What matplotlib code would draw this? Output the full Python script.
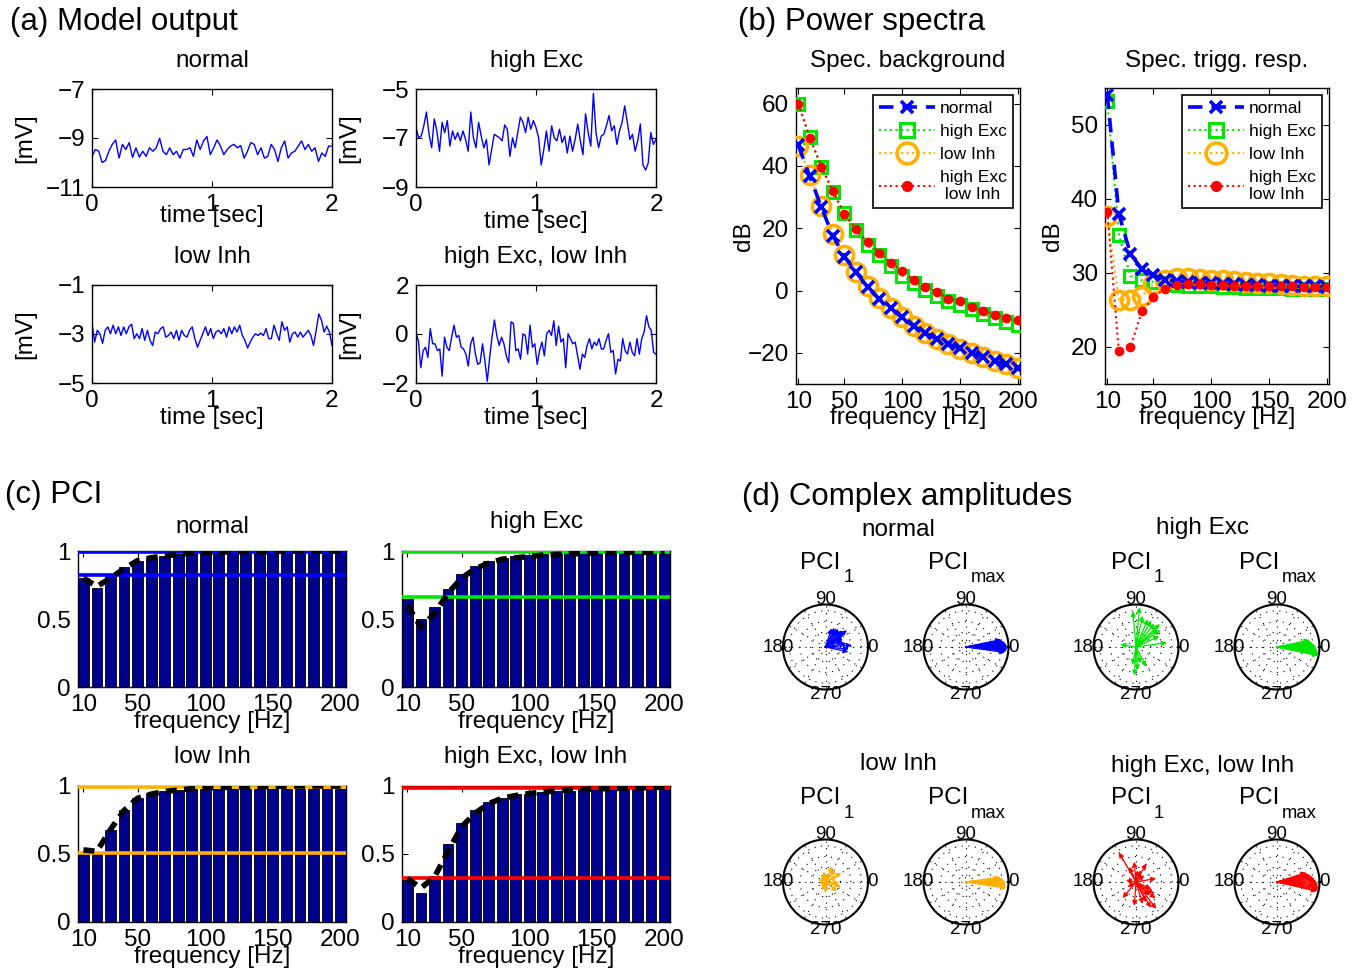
import numpy as np
import matplotlib
matplotlib.use('Agg')
import matplotlib.pyplot as plt

plt.rcParams['font.family'] = ['Liberation Sans', 'DejaVu Sans']
plt.rcParams['axes.unicode_minus'] = True

# ---------------- data ----------------
# (a) model output traces [mV], 0..2 s
trace_normal = [-9.75, -9.47, -9.54, -10.0, -9.92, -9.54, -9.26, -9.08, -9.82, -9.26, -9.47, -9.19,
                -9.79, -9.40, -9.78, -9.54, -9.75, -9.40, -9.54, -9.40, -9.01, -9.54, -9.68, -9.40,
                -9.68, -9.54, -9.82, -9.47, -9.47, -9.40, -9.75, -9.08, -9.47, -9.12, -8.94, -9.68,
                -9.40, -9.08, -9.33, -9.68, -9.47, -9.33, -9.26, -9.40, -9.31, -9.82, -9.54, -9.19,
                -9.26, -9.68, -9.40, -9.82, -9.75, -9.26, -9.47, -9.96, -9.40, -9.12, -9.82, -9.61,
                -9.54, -9.33, -9.12, -9.47, -9.26, -9.54, -9.40, -9.96, -9.61, -9.75, -9.33, -9.33]
trace_highexc = [-6.57, -6.99, -6.92, -6.50, -5.94, -6.85, -7.40, -6.22, -6.71, -7.54, -6.36, -6.78,
                 -6.29, -7.33, -6.71, -7.06, -6.78, -7.12, -6.71, -7.06, -7.54, -5.94, -6.99, -7.40,
                 -6.36, -6.92, -7.40, -7.06, -8.10, -7.47, -6.85, -6.92, -6.99, -7.12, -6.47, -6.64,
                 -7.75, -6.99, -7.40, -6.78, -6.15, -6.36, -6.78, -6.15, -6.64, -6.29, -6.57, -6.99,
                 -8.10, -7.47, -6.71, -7.54, -6.50, -6.99, -7.12, -6.64, -7.19, -6.92, -7.61, -6.92,
                 -7.54, -7.06, -6.43, -7.12, -7.68, -6.01, -6.78, -7.33, -5.18, -6.78, -7.40, -6.92,
                 -6.85, -6.50, -6.08, -6.71, -6.50, -7.26, -6.71, -6.36, -5.69, -6.36, -7.06, -6.85,
                 -7.54, -7.12, -6.43, -8.10, -8.31, -8.03, -6.78, -7.26, -7.06]
trace_lowinh = [-2.57, -3.33, -2.85, -2.99, -3.38, -2.85, -2.71, -2.99, -2.64, -2.99, -2.71, -3.06,
                -2.71, -2.99, -2.71, -2.60, -3.19, -2.99, -3.19, -2.78, -3.26, -2.85, -3.26, -3.47,
                -2.92, -2.99, -2.78, -2.71, -3.13, -3.06, -2.92, -3.19, -2.85, -3.26, -2.85, -3.06,
                -3.13, -2.85, -2.71, -3.19, -3.54, -3.26, -2.99, -2.71, -3.06, -2.78, -3.19, -2.92,
                -2.85, -2.99, -2.78, -3.13, -2.71, -2.99, -2.71, -2.92, -2.64, -3.06, -3.26, -3.57,
                -3.33, -3.13, -2.99, -3.06, -2.96, -3.06, -2.78, -3.19, -3.19, -2.64, -2.99, -3.26,
                -2.50, -2.85, -2.71, -3.33, -2.99, -2.92, -3.13, -2.92, -3.13, -2.99, -2.85, -3.06,
                -3.47, -2.85, -2.18, -2.43, -2.92, -2.68, -2.92, -3.47]
trace_both = [0.01, -0.26, -1.38, -0.68, -0.54, -0.96, 0.22, -0.40, -0.40, -0.68, -0.61, -1.72,
              -0.13, -0.54, -0.68, -0.13, 0.36, -0.13, -0.06, -0.54, -0.61, -0.82, -1.31, -0.40,
              -0.13, -0.82, -1.24, -1.17, -0.40, -1.10, -1.93, -0.96, -0.13, 0.57, -0.06, -0.47,
              -0.13, -0.40, -0.89, -1.17, 0.50, 0.43, -0.68, -0.61, -1.03, 0.01, -0.06, -0.82,
              0.36, -0.54, -0.40, -1.24, -0.68, -0.33, -0.89, 0.01, 0.15, -0.06, 0.54, -0.47,
              0.32, -0.33, -0.19, -1.38, 0.01, -0.19, -0.40, -0.33, -0.89, -1.44, -0.82, -0.96,
              -0.47, -0.19, -0.61, -0.33, -0.47, -0.19, -0.61, -0.61, -0.26, 0.01, -0.75, -0.68,
              -1.63, -1.03, -1.10, -0.19, -0.68, -0.82, -0.33, -0.75, -0.89, -0.19, -0.82, -0.19,
              0.08, 0.75, 0.29, 0.15, -0.75, -0.82]

conditions = ['normal', 'high Exc', 'low Inh', 'high Exc, low Inh']
traces = [trace_normal, trace_highexc, trace_lowinh, trace_both]
trace_ylims = [(-11, -7), (-9, -5), (-5, -1), (-2, 2)]

# (b) power spectra [dB]
freqs = [10, 20, 30, 40, 50, 60, 70, 80, 90, 100, 110, 120, 130, 140, 150, 160, 170, 180, 190, 200]
bg_normal = [46.6, 36.6, 26.7, 17.5, 10.9, 5.9, 1.1, -2.7, -5.6, -8.6, -11.5, -13.7, -15.5, -17.2,
             -18.5, -20.1, -21.2, -22.6, -23.7, -24.9]
bg_highexc = [60.0, 49.2, 39.5, 31.5, 24.8, 19.4, 14.5, 11.3, 7.8, 4.8, 2.3, 0.2, -1.6, -3.4,
              -4.5, -6.0, -7.6, -8.7, -10.0, -11.1]
bg_lowinh = [46.5, 37.0, 27.0, 18.0, 11.3, 6.0, 1.4, -2.5, -5.6, -8.4, -11.3, -13.6, -15.5, -17.2,
             -18.8, -20.2, -21.4, -22.6, -23.7, -24.9]
bg_both = [60.0, 49.0, 39.8, 31.8, 24.6, 19.6, 15.5, 12.2, 8.9, 6.2, 3.3, 1.1, -0.4, -2.7,
           -3.4, -5.3, -6.5, -7.7, -8.8, -9.6]
trig_normal = [54.1, 38.0, 32.6, 30.5, 29.7, 29.0, 28.9, 28.8, 28.7, 28.6, 28.5, 28.5, 28.4, 28.4,
               28.3, 28.3, 28.2, 28.2, 28.2, 28.1]
trig_highexc = [53.2, 35.2, 29.6, 29.0, 28.8, 28.6, 28.4, 28.3, 28.2, 28.2, 28.1, 28.1, 28.0, 28.0,
                28.0, 28.0, 27.9, 27.9, 27.9, 27.9]
trig_lowinh = [37.7, 26.4, 26.4, 26.9, 28.5, 29.0, 29.3, 29.3, 29.2, 29.1, 29.0, 28.9, 28.8, 28.7,
               28.6, 28.5, 28.4, 28.3, 28.3, 28.2]
trig_both = [38.3, 19.4, 20.0, 24.8, 26.7, 27.9, 28.4, 28.5, 28.5, 28.4, 28.4, 28.3, 28.3, 28.2,
             28.2, 28.2, 28.2, 28.1, 28.1, 28.1]

# (c) PCI
pci_normal = [0.80, 0.73, 0.82, 0.88, 0.93, 0.95, 0.96, 0.975, 0.99, 0.99, 0.99, 0.99, 0.99, 0.99,
              0.99, 0.99, 0.99, 0.99, 0.99, 0.99]
pci_highexc = [0.65, 0.50, 0.59, 0.72, 0.83, 0.89, 0.93, 0.95, 0.96, 0.97, 0.975, 0.985, 0.985,
               0.985, 0.985, 0.985, 0.985, 0.985, 0.985, 0.985]
pci_lowinh = [0.51, 0.51, 0.68, 0.82, 0.915, 0.945, 0.96, 0.97, 0.975, 0.98, 0.98, 0.98, 0.98, 0.98,
              0.98, 0.98, 0.98, 0.98, 0.98, 0.98]
pci_both = [0.31, 0.21, 0.34, 0.57, 0.73, 0.82, 0.88, 0.91, 0.94, 0.94, 0.955, 0.96, 0.965, 0.975,
            0.975, 0.975, 0.975, 0.975, 0.975, 0.975]
fit_normal = [0.80, 0.74, 0.80, 0.87, 0.93, 0.95, 0.965, 0.975, 0.985, 0.99, 0.99, 0.995, 0.995,
              0.995, 0.995, 1.0, 1.0, 1.0, 1.0, 1.0]
fit_highexc = [0.60, 0.44, 0.54, 0.69, 0.80, 0.87, 0.91, 0.94, 0.95, 0.96, 0.97, 0.975, 0.98, 0.98,
               0.985, 0.985, 0.99, 0.99, 0.99, 0.99]
fit_lowinh = [0.53, 0.52, 0.68, 0.82, 0.91, 0.94, 0.96, 0.97, 0.98, 0.985, 0.99, 0.99, 0.995,
              0.995, 0.995, 1.0, 1.0, 1.0, 1.0, 1.0]
fit_both = [0.32, 0.25, 0.33, 0.52, 0.70, 0.80, 0.87, 0.91, 0.93, 0.945, 0.955, 0.965, 0.97, 0.975,
            0.98, 0.98, 0.985, 0.985, 0.99, 0.99]
pci_levels = [(0.99, 0.82), (0.99, 0.66), (0.99, 0.51), (0.985, 0.32)]

# (d) complex amplitudes: (angle [deg], magnitude)
amp1_normal_ang = [72, 65, 60, 55, 50, 45, 40, 38, 35, 30, 25, 20, 10, 4, -5, -12]
amp1_normal_mag = [0.46, 0.50, 0.48, 0.52, 0.50, 0.55, 0.60, 0.64, 0.50, 0.45, 0.45, 0.42, 0.50, 0.62, 0.55, 0.55]
ampM_normal_ang = [-8, -6, -5, -4, -3, -2, -1, 0, 1, 2, 3, 4, 5, 6, 7, 8, 9, 10, 11, 12]
ampM_normal_mag = [0.92, 0.95, 0.96, 0.97, 0.96, 0.98, 0.97, 0.96, 0.98, 0.97, 0.95, 0.96, 0.94, 0.93, 0.92, 0.9, 0.88, 0.86, 0.85, 0.84]
amp1_highexc_ang = [85, 95, 78, 67, 60, 52, 44, 40, 35, 25, 8, 171, -93, -86, -63, -101, -75]
amp1_highexc_mag = [0.94, 0.85, 0.75, 0.71, 0.72, 0.70, 0.78, 0.66, 0.70, 0.60, 0.73, 0.37, 0.67, 0.55, 0.52, 0.43, 0.40]
ampM_highexc_ang = [-12, -10, -8, -6, -4, -2, 0, 2, 4, 6, 8, 10, 12, -11, -9, -7, -5, -3, -1, 1, 3, 5]
ampM_highexc_mag = [0.98, 1.0, 0.99, 0.97, 0.95, 0.94, 0.92, 0.9, 0.88, 0.85, 0.83, 0.8, 0.78, 0.99, 0.98, 0.96, 0.95, 0.93, 0.92, 0.9, 0.87, 0.84]
amp1_lowinh_ang = [67, 30, -16, -39, -90, -113, 160, 120, 26, 51, 70, -40, -4, 100, 200]
amp1_lowinh_mag = [0.40, 0.43, 0.37, 0.35, 0.26, 0.20, 0.17, 0.20, 0.30, 0.37, 0.23, 0.16, 0.32, 0.25, 0.15]
ampM_lowinh_ang = [-9, -7, -5, -3, -1, 0, 1, 2, 3, 4, 5, 6, 7, 8]
ampM_lowinh_mag = [0.95, 0.96, 0.95, 0.94, 0.93, 0.92, 0.91, 0.9, 0.9, 0.88, 0.86, 0.84, 0.82, 0.8]
amp1_both_ang = [120, -53, -130, -94, -73, 10, 61, 95, 114, -45, -33, -24, 67, -149, 170, -63, 82, 39, -60, -40]
amp1_both_mag = [0.80, 0.79, 0.49, 0.56, 0.54, 0.48, 0.50, 0.48, 0.39, 0.45, 0.50, 0.39, 0.30, 0.23, 0.24, 0.53, 0.28, 0.25, 0.7, 0.6]
ampM_both_ang = [18, 16, 14, 12, 10, 8, 6, 4, 2, 0, -2, -4, -6, -8, -10, -12, -13]
ampM_both_mag = [0.72, 0.74, 0.76, 0.8, 0.82, 0.85, 0.88, 0.9, 0.92, 0.94, 0.96, 0.97, 0.98, 0.99, 1.0, 0.98, 0.96]

ORANGE = '#FFB000'
cond_colors = ['#0000FF', '#00E600', ORANGE, '#FF0000']

# ---------------- layout ----------------
W, H = 1361, 973
fig = plt.figure(figsize=(W / 100, H / 100), dpi=100)

FS = 17.5
FS_HEAD = 22.5


def rect(x, y, w, h):
    return [x / W, 1 - (y + h) / H, w / W, h / H]


def ftext(x, y, s, **kw):
    kw.setdefault('ha', 'center')
    kw.setdefault('va', 'center')
    fig.text(x / W, 1 - y / H, s, **kw)


def style(ax):
    ax.tick_params(direction='in', top=True, right=True, length=4, width=0.8,
                   labelsize=FS, pad=5)
    for s in ax.spines.values():
        s.set_linewidth(1.0)


# panel headings
ftext(10, 22, '(a) Model output', fontsize=FS_HEAD, ha='left')
ftext(738, 22, '(b) Power spectra', fontsize=FS_HEAD, ha='left')
ftext(5, 495, '(c) PCI', fontsize=FS_HEAD, ha='left')
ftext(742, 497, '(d) Complex amplitudes', fontsize=FS_HEAD, ha='left')

# (a)
a_rects = [(92, 89), (416, 89), (92, 285), (416, 285)]
a_xlab_off = [29, 35, 35, 35]
for (x0, y0), name, tr, yl, xo in zip(a_rects, conditions, traces, trace_ylims, a_xlab_off):
    ax = fig.add_axes(rect(x0, y0, 240, 98))
    t = np.linspace(0, 2, len(tr))
    ax.plot(t, tr, color='#0000FF', lw=1.0)
    ax.set_xlim(0, 2)
    ax.set_ylim(*yl)
    ax.set_xticks([0, 1, 2])
    yt = [yl[0], (yl[0] + yl[1]) / 2, yl[1]]
    ax.set_yticks(yt)
    ax.set_yticklabels([str(int(v)) if v >= 0 else '\u2212' + str(int(-v)) for v in yt])
    style(ax)
    ax.set_xlabel('time [sec]', fontsize=FS)
    ax.xaxis.set_label_coords(0.5, -xo / 98)
    ax.xaxis.label.set_va('center')
    ax.set_ylabel('[mV]', fontsize=FS)
    ax.yaxis.set_label_coords(-67 / 240, 0.5)
    ax.yaxis.label.set_va('center')
    ftext(x0 + 120, y0 - 28, name, fontsize=FS)

# (b)
b_specs = [
    (796, 'Spec. background', (-30, 65), [-20, 0, 20, 40, 60],
     [bg_normal, bg_highexc, bg_lowinh, bg_both], 'high Exc\n low Inh'),
    (1105, 'Spec. trigg. resp.', (15, 55), [20, 30, 40, 50],
     [trig_normal, trig_highexc, trig_lowinh, trig_both], 'high Exc\nlow Inh'),
]
for x0, title, yl, yt, series, last_lab in b_specs:
    ax = fig.add_axes(rect(x0, 88, 224, 296))
    s_n, s_he, s_li, s_b = series
    ax.plot(freqs, s_n, color='#0000FF', ls=(0, (4, 2.5)), lw=2.6, marker='x',
            ms=8, mew=2.6, label='normal', zorder=4)
    ax.plot(freqs, s_he, color='#00E600', ls=':', lw=1.5, marker='s', ms=9,
            mfc='none', mew=2.2, label='high Exc', zorder=3)
    ax.plot(freqs, s_li, color=ORANGE, ls=':', lw=1.5, marker='o', ms=13,
            mfc='none', mew=2.6, label='low Inh', zorder=3)
    ax.plot(freqs, s_b, color='#FF0000', ls=':', lw=1.5, marker='o', ms=7,
            mew=0, label=last_lab, zorder=5)
    ax.set_xlim(8, 202)
    ax.set_ylim(*yl)
    ax.set_xticks([10, 50, 100, 150, 200])
    ax.set_yticks(yt)
    ax.set_yticklabels([str(v) if v >= 0 else '\u2212' + str(-v) for v in yt])
    style(ax)
    ax.set_xlabel('frequency [Hz]', fontsize=FS)
    ax.xaxis.set_label_coords(0.5, -34 / 296)
    ax.xaxis.label.set_va('center')
    ax.set_ylabel('dB', fontsize=FS)
    ax.yaxis.set_label_coords(-52 / 224, 0.5)
    ax.yaxis.label.set_va('center')
    leg = ax.legend(loc='upper right', fontsize=12.5, frameon=True, fancybox=False,
                    framealpha=1, edgecolor='black', handlelength=3.2, borderpad=0.35,
                    labelspacing=0.45, handletextpad=0.3, borderaxespad=0.4,
                    markerscale=1.15)
    leg.get_frame().set_linewidth(1.2)
    ftext(x0 + 112, 61, title, fontsize=FS)

# (c)
c_rects = [(78, 551), (402, 551), (78, 786), (402, 786)]
c_title_y = [527, 522, 757, 757]
pcis = [pci_normal, pci_highexc, pci_lowinh, pci_both]
fits = [fit_normal, fit_highexc, fit_lowinh, fit_both]
for (x0, y0), name, pv, fv, lev, col, ty in zip(c_rects, conditions, pcis, fits, pci_levels,
                                                  cond_colors, c_title_y):
    ax = fig.add_axes(rect(x0, y0, 268, 136))
    ax.bar(freqs, pv, width=8, color='#00008F', edgecolor='black', linewidth=0.6, zorder=2)
    for lv in lev:
        ax.axhline(lv, color=col, lw=2.6, zorder=3)
    ax.plot(freqs, fv, color='black', lw=4.0, ls=(0, (2, 1.3)), zorder=4)
    ax.set_xlim(6, 204)
    ax.set_ylim(0, 1)
    ax.set_xticks([10, 50, 100, 150, 200])
    ax.set_yticks([0, 0.5, 1])
    ax.set_yticklabels(['0', '0.5', '1'])
    style(ax)
    ax.set_xlabel('frequency [Hz]', fontsize=FS)
    ax.xaxis.set_label_coords(0.5, -35 / 136)
    ax.xaxis.label.set_va('center')
    ftext(x0 + 134, ty, name, fontsize=FS)

# (d)
R = 42.5
d_centers_x = [825.5, 966, 1136, 1277]
d_centers_y = [647, 882]
d_data = [
    [(amp1_normal_ang, amp1_normal_mag), (ampM_normal_ang, ampM_normal_mag)],
    [(amp1_highexc_ang, amp1_highexc_mag), (ampM_highexc_ang, ampM_highexc_mag)],
    [(amp1_lowinh_ang, amp1_lowinh_mag), (ampM_lowinh_ang, ampM_lowinh_mag)],
    [(amp1_both_ang, amp1_both_mag), (ampM_both_ang, ampM_both_mag)],
]
d_title_pos = [(898, 530), (1203, 528), (898, 764), (1203, 766)]
for k in range(4):
    row, colk = k // 2, k % 2
    cy = d_centers_y[row]
    ftext(*d_title_pos[k], conditions[k], fontsize=FS)
    for j in range(2):
        cx = d_centers_x[2 * colk + j]
        angs, mags = d_data[k][j]
        ax = fig.add_axes(rect(cx - R, cy - R, 2 * R, 2 * R), projection='polar')
        ax.set_ylim(0, 1)
        ax.set_thetagrids(range(0, 360, 30),
                          labels=['0', '', '', '90', '', '', '180', '', '', '270', '', ''])
        ax.set_rgrids([0.1, 0.35, 0.6, 0.85], labels=[])
        ax.grid(True, color='black', ls=(0, (1, 5)), lw=0.8)
        ax.tick_params(axis='x', labelsize=13.5, pad=-7)
        ax.spines['polar'].set_linewidth(1.5)
        for a, m in zip(angs, mags):
            ax.annotate('', xy=(np.deg2rad(a), m), xytext=(0, 0),
                        arrowprops=dict(arrowstyle='-|>', color=cond_colors[k], lw=0.9,
                                        mutation_scale=7, shrinkA=0, shrinkB=0))
        # subtitle PCI_1 / PCI_max
        ty = cy - 84
        xr = cx + 15 if j == 0 else cx + 2
        ftext(xr, ty, 'PCI', fontsize=FS, ha='right')
        ftext(xr + 3, ty + 15, '1' if j == 0 else 'max', fontsize=13.3, ha='left')

fig.savefig('out.png', dpi=100)
